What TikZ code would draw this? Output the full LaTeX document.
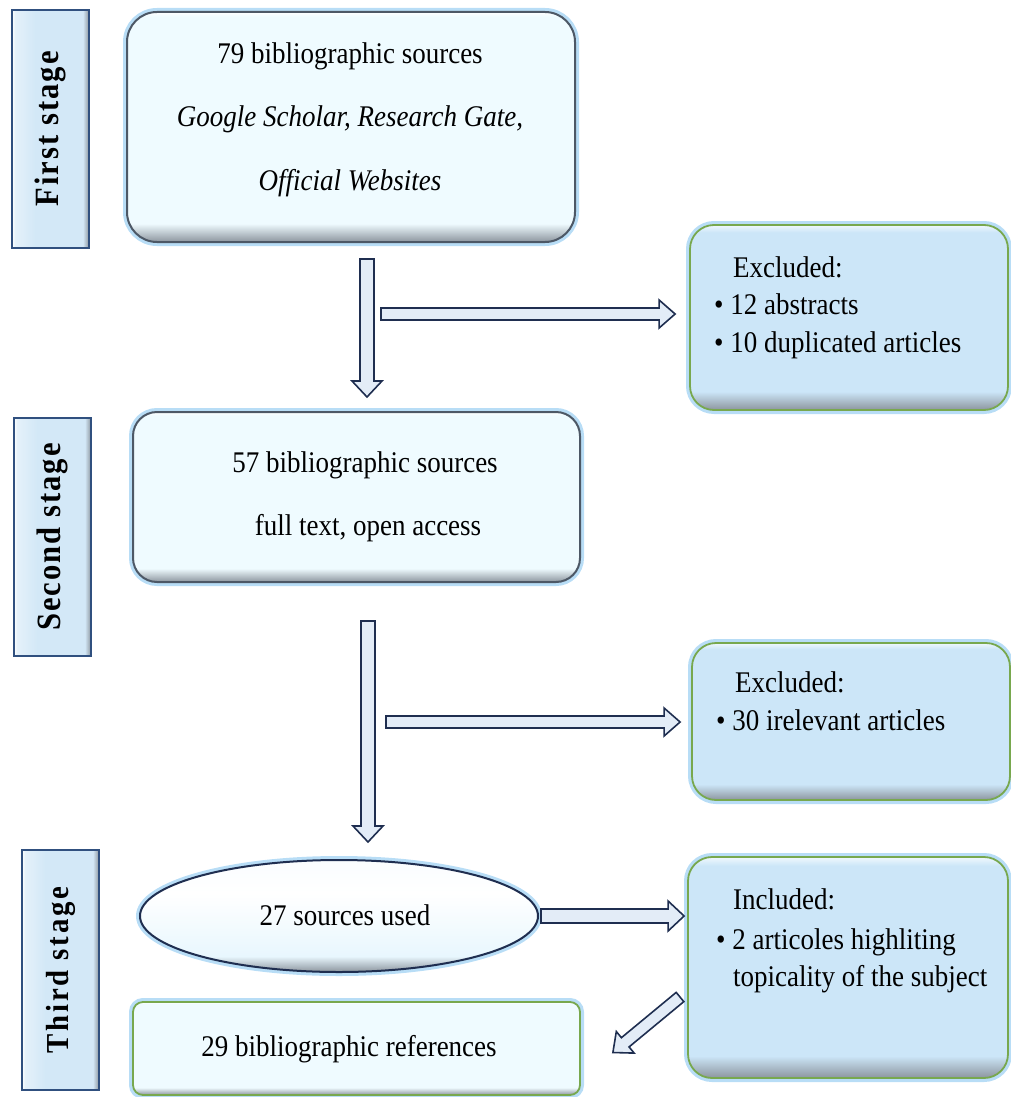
\documentclass[tikz,border=0pt]{standalone}
\usepackage{fontspec}
\setmainfont{Liberation Serif}[FakeStretch=0.9]
\usetikzlibrary{calc,shapes.geometric}
\definecolor{glowblue}{HTML}{B8DDF6}
\definecolor{edgegray}{HTML}{4D5866}
\definecolor{mainfill}{HTML}{EFFBFF}
\definecolor{exfill}{HTML}{CCE6F8}
\definecolor{edgegreen}{HTML}{78A84E}
\definecolor{stagefill}{HTML}{D3E8F7}
\definecolor{stageedge}{HTML}{30507F}
\definecolor{arrowfill}{HTML}{E3ECF7}
\definecolor{arrowedge}{HTML}{1F2E50}
\definecolor{shadowgray}{HTML}{8C959E}
\pgfdeclareverticalshading{mainshade}{100bp}{color(0bp)=(shadowgray); color(25bp)=(shadowgray); color(29bp)=(mainfill); color(74bp)=(mainfill); color(75bp)=(white); color(100bp)=(white)}
\pgfdeclareverticalshading{exshade}{100bp}{color(0bp)=(shadowgray); color(25bp)=(shadowgray); color(30bp)=(exfill); color(73bp)=(exfill); color(75bp)=(white!70!exfill); color(100bp)=(white)}
\pgfdeclareverticalshading{ellshade}{100bp}{color(0bp)=(shadowgray); color(25bp)=(shadowgray); color(32bp)=(mainfill!80!exfill); color(60bp)=(white); color(75bp)=(white!90!exfill); color(100bp)=(white)}
\pgfdeclarehorizontalshading{stageshade}{100bp}{color(0bp)=(white); color(25bp)=(white); color(27bp)=(stagefill!60!white); color(40bp)=(stagefill); color(71bp)=(stagefill); color(75bp)=(shadowgray); color(100bp)=(shadowgray)}
\newcommand\fatarrow[4]{%
  \coordinate (fahd) at ($(#2)!16pt!(#1)$);
  \draw[arrowbody] ($(#1)!#3!90:(#2)$) -- ($(fahd)!#3!90:(#2)$) -- ($(fahd)!#4!90:(#2)$) -- (#2)
    -- ($(fahd)!#4!-90:(#2)$) -- ($(fahd)!#3!-90:(#2)$) -- ($(#1)!#3!-90:(#2)$) -- cycle;}
\begin{document}
\begin{tikzpicture}[x=1pt,y=1pt,
  glow/.style={preaction={draw=glowblue, line width=8pt}},
  mainbox/.style={shape=rectangle, rounded corners=30pt, draw=edgegray, line width=2pt, shading=mainshade, glow, inner sep=0pt},
  exbox/.style={shape=rectangle, rounded corners=24pt, draw=edgegreen, line width=1.8pt, shading=exshade, glow, inner sep=0pt},
  refbox/.style={shape=rectangle, rounded corners=10pt, draw=edgegreen, line width=1.8pt, shading=mainshade, glow, inner sep=0pt},
  ellbox/.style={shape=ellipse, draw=arrowedge, line width=2pt, shading=ellshade, glow, inner sep=0pt},
  stagebox/.style={shape=rectangle, draw=stageedge, line width=1.8pt, shading=stageshade, inner sep=0pt,
     font=\fontsize{34}{34}\bfseries\addfontfeatures{LetterSpace=6}\selectfont},
  txt/.style={font=\fontsize{30}{36}\selectfont, inner sep=0pt},
  arrowbody/.style={draw=arrowedge, fill=arrowfill, line width=1.6pt, line join=miter}
]
\useasboundingbox (0,0) rectangle (1011,-1097);

% stage labels
\node[stagebox, rotate=90, minimum width=238pt, minimum height=77pt] (s1) at (50.5,-129) {First stage};
\node[stagebox, rotate=90, minimum width=238pt, minimum height=77pt] (s2) at (52.5,-537) {Second stage};
\node[stagebox, rotate=90, minimum width=240pt, minimum height=77pt,
      font=\fontsize{32}{32}\bfseries\addfontfeatures{LetterSpace=9}\selectfont] (s3) at (60.5,-970) {Third stage};

% boxes
\node[mainbox, minimum width=448pt, minimum height=230pt] (b1) at (351,-127) {};
\node[txt, anchor=base] (b1a) at (350,-64) {79 bibliographic sources};
\node[txt, anchor=base] (b1b) at (350,-127) {\itshape Google Scholar, Research Gate,};
\node[txt, anchor=base] (b1c) at (350,-190) {\itshape Official Websites};

\node[mainbox, rounded corners=24pt, minimum width=447pt, minimum height=170pt] (b2) at (356.5,-497) {};
\node[txt, anchor=base] (b2a) at (365,-472) {57 bibliographic sources};
\node[txt, anchor=base] (b2b) at (368,-535) {full text, open access};

\node[exbox, minimum width=318pt, minimum height=185pt] (ex1) at (849,-317.5) {};
\node[txt, anchor=base west] (ex1a) at (733,-277) {Excluded:};
\node[txt, anchor=base west] (ex1b) at (714,-314) {\textbullet\ 12 abstracts};
\node[txt, anchor=base west] (ex1c) at (714,-352) {\textbullet\ 10 duplicated articles};

\node[exbox, minimum width=318pt, minimum height=157pt] (ex2) at (851,-721.5) {};
\node[txt, anchor=base west] (ex2a) at (735,-692) {Excluded:};
\node[txt, anchor=base west] (ex2b) at (716,-730) {\textbullet\ 30 irelevant articles};

\node[ellbox, minimum width=398pt, minimum height=112pt] (ell) at (339,-916) {};
\node[txt, anchor=base] (ellt) at (345,-925) {27 sources used};

\node[exbox, minimum width=320pt, minimum height=221pt] (inc) at (848,-967.5) {};
\node[txt, anchor=base west] (inca) at (733,-909) {Included:};
\node[txt, anchor=base west] (incb) at (716,-949) {\textbullet\ 2 articoles highliting};
\node[txt, anchor=base west] (incc) at (733,-986) {topicality of the subject};

\node[refbox, minimum width=447pt, minimum height=93pt] (ref) at (356.5,-1048.5) {};
\node[txt, anchor=base] (reft) at (349,-1056) {29 bibliographic references};

% arrows
\coordinate (v1s) at ($(b1.south)+(16,-16)$);
\coordinate (v1e) at ($(b2.north)+(10.5,14)$);
\fatarrow{v1s}{v1e}{7pt}{15pt}
\coordinate (h1s) at (381,-314);
\coordinate (h1e) at ($(ex1.west |- h1s)+(-14,0)$);
\fatarrow{h1s}{h1e}{6pt}{14pt}
\coordinate (v2s) at ($(b2.south)+(11.5,-38)$);
\coordinate (v2e) at ($(ell.north)+(29,17)$);
\fatarrow{v2s}{v2e}{7pt}{15pt}
\coordinate (h2s) at (386,-722);
\coordinate (h2e) at ($(ex2.west |- h2s)+(-11,0)$);
\fatarrow{h2s}{h2e}{6pt}{14pt}
\coordinate (h3s) at ($(ell.east)+(2,0)$);
\coordinate (h3e) at ($(inc.west |- ell.east)+(-3,0)$);
\fatarrow{h3s}{h3e}{7pt}{15pt}
\coordinate (dgs) at (680,-997);
\coordinate (dge) at ($(ref.east)+(32,-4)$);
\fatarrow{dgs}{dge}{6pt}{14pt}
\end{tikzpicture}
\end{document}
